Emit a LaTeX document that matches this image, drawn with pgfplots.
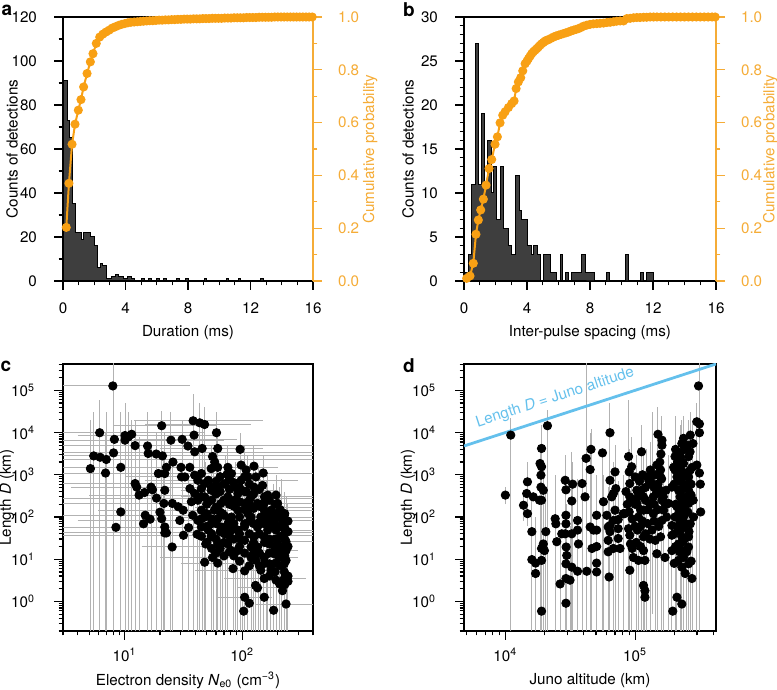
\documentclass[border=0pt]{standalone}
\usepackage{fontspec}
\setmainfont{TeX Gyre Heros}
\usepackage{pgfplots}
\pgfplotsset{compat=1.18}
\definecolor{cumor}{RGB}{248,160,20}
\definecolor{axor}{RGB}{245,172,55}
\definecolor{barfill}{RGB}{62,62,62}
\definecolor{eb}{RGB}{178,178,178}
\definecolor{jblue}{RGB}{100,192,236}
\newcommand{\fs}{\fontsize{7.6}{9}\selectfont}
\pgfplotsset{
  every axis/.append style={scale only axis, font=\fs,
    tick label style={font=\fs}, label style={font=\fs},
    axis line style={line width=0.6pt}, tick style={line width=0.6pt, black},
    major tick length=4.5pt, minor tick length=2.2pt, tick align=outside,
    /pgf/number format/assume math mode=true},
  twin/.style={axis x line=none, axis y line*=right, ymin=0, ymax=1,
    ytick={0,0.2,0.4,0.6,0.8,1}, minor ytick={0.1,0.3,0.5,0.7,0.9},
    yticklabels={0.0,0.2,0.4,0.6,0.8,1.0},
    yticklabel style={color=axor, anchor=west, xshift=4.5pt},
    y axis line style={color=axor}, tick style={color=axor}, clip=false},
  hist/.style={xmin=0, xmax=16, xtick={0,4,8,12,16},
    minor xtick={1,2,3,5,6,7,9,10,11,13,14,15}, xtick pos=left, ytick pos=left,
    xticklabel style={anchor=north, yshift=-3pt}, yticklabel style={anchor=east, xshift=-5pt}},
  logp/.style={xtick pos=left, ytick pos=left,
    ytick={1,10,100,1000,10000,100000},
    yticklabels={10\textsuperscript{0},10\textsuperscript{1},10\textsuperscript{2},10\textsuperscript{3},10\textsuperscript{4},10\textsuperscript{5}},
    minor ytick={0.2,0.3,0.4,0.5,0.6,0.7,0.8,0.9,2,3,4,5,6,7,8,9,20,30,40,50,60,70,80,90,200,300,400,500,600,700,800,900,2000,3000,4000,5000,6000,7000,8000,9000,20000,30000,40000,50000,60000,70000,80000,90000,200000,300000,400000},
    xticklabel style={anchor=north, yshift=-0.5pt}, yticklabel style={anchor=east, xshift=-6pt},
    ylabel={Length \textit{D} (km)}},
}
\begin{document}
\begin{tikzpicture}
\useasboundingbox (0,0) rectangle (388.5pt,345pt);
% ---------------- panel a ----------------
\begin{axis}[hist, at={(31.5pt,204.5pt)}, anchor=south west, width=125pt, height=132pt,
  ymin=0, ymax=120, ytick={0,20,40,60,80,100,120}, minor ytick={10,30,50,70,90,110},
  xlabel={Duration (ms)}, xlabel style={at={(axis description cs:0.5,-0.197)}, anchor=center},
  ylabel={Counts of detections}, ylabel style={at={(axis description cs:-0.204,0.5)}, anchor=center}]
\addplot[const plot mark left, fill=barfill, draw=black, line width=0.5pt] coordinates {
(0,91) (0.26,73) (0.4,65) (0.6,35) (0.83,22) (1.2,19) (1.32,22) (1.75,20) (2.0,16)
(2.2,6) (2.4,8) (2.55,7) (2.8,1) (3.1,2) (3.35,3) (3.55,2) (3.9,1) (4.1,2) (4.4,1)
(4.6,0) (5.0,1) (5.2,0) (5.5,1) (5.65,0) (6.0,1) (6.2,0) (6.4,1) (6.6,0) (7.25,1)
(7.45,0) (7.85,1) (8.0,0) (9.05,1) (9.2,0) (10.45,1) (10.6,0) (11.2,1) (11.35,0)
(12.65,1) (12.8,0) (16,0)} \closedcycle;
\end{axis}
\begin{axis}[twin, at={(31.5pt,204.5pt)}, anchor=south west, width=125pt, height=132pt,
  xmin=0, xmax=16,
  ylabel={Cumulative probability}, ylabel style={color=axor, at={(axis description cs:1.228,0.5)}, anchor=center}]
\addplot[color=cumor, line width=1pt, mark=*, mark size=1.75pt] coordinates {
(0.21,0.203) (0.38,0.37) (0.58,0.518) (0.77,0.594) (0.98,0.647) (1.15,0.687) (1.32,0.735)
(1.54,0.786) (1.75,0.83) (1.92,0.861) (2.13,0.9) (2.35,0.924) (2.55,0.935) (2.75,0.943)
(2.95,0.95) (3.15,0.958) (3.35,0.963) (3.55,0.968) (3.75,0.972) (3.95,0.975) (4.15,0.978)
(4.35,0.98) (4.55,0.981) (4.75,0.982) (4.95,0.983) (5.15,0.984) (5.35,0.985) (5.55,0.986)
(5.75,0.986) (5.95,0.987) (6.15,0.988) (6.35,0.988) (6.55,0.989) (6.75,0.989) (6.95,0.99)
(7.15,0.99) (7.35,0.991) (7.55,0.991) (7.75,0.992) (7.95,0.992) (8.15,0.992) (8.35,0.993)
(8.55,0.993) (8.75,0.993) (8.95,0.994) (9.15,0.994) (9.35,0.994) (9.55,0.995) (9.75,0.995)
(9.95,0.995) (10.15,0.995) (10.35,0.996) (10.55,0.996) (10.75,0.996) (10.95,0.997)
(11.15,0.997) (11.35,0.997) (11.55,0.997) (11.75,0.998) (11.95,0.998) (12.15,0.998)
(12.35,0.998) (12.55,0.999) (12.75,0.999) (12.95,0.999) (13.15,0.999) (13.35,0.999)
(13.55,1) (13.75,1) (13.95,1) (14.15,1) (14.35,1) (14.55,1) (14.75,1) (14.95,1) (15.15,1)
(15.35,1) (15.55,1) (15.75,1) (15.95,1)};
\end{axis}
% ---------------- panel b ----------------
\begin{axis}[hist, at={(232pt,204.5pt)}, anchor=south west, width=126pt, height=132pt,
  ymin=0, ymax=30, ytick={0,5,10,15,20,25,30},
  minor ytick={1,2,3,4,6,7,8,9,11,12,13,14,16,17,18,19,21,22,23,24,26,27,28,29},
  xlabel={Inter-pulse spacing (ms)}, xlabel style={at={(axis description cs:0.5,-0.197)}, anchor=center},
  ylabel={Counts of detections}, ylabel style={at={(axis description cs:-0.222,0.5)}, anchor=center}]
\addplot[const plot mark left, fill=barfill, draw=black, line width=0.5pt] coordinates {
(0,1) (0.28,3) (0.49,11) (0.7,27) (0.95,11) (1.08,19) (1.33,11) (1.48,16) (1.72,10)
(1.86,13) (2.08,7) (2.29,13) (2.5,6) (2.82,4) (2.99,3) (3.28,12) (3.5,8) (3.67,7)
(4.05,4) (4.26,3) (4.41,4) (4.68,3) (4.83,0) (5.04,3) (5.47,1) (5.89,0) (6.1,3)
(6.27,0) (6.42,1) (6.63,0) (6.84,1) (7.48,3) (7.69,1) (8.26,0) (9.07,1) (9.24,0)
(10.23,3) (10.44,0) (11.19,1) (11.4,0) (11.57,1) (12.03,0) (16,0)} \closedcycle;
\end{axis}
\begin{axis}[twin, at={(232pt,204.5pt)}, anchor=south west, width=126pt, height=132pt,
  xmin=0, xmax=16,
  ylabel={Cumulative probability}, ylabel style={color=axor, at={(axis description cs:1.216,0.5)}, anchor=center}]
\addplot[color=cumor, line width=1pt, mark=*, mark size=1.75pt] coordinates {
(0.17,0.01) (0.38,0.019) (0.59,0.067) (0.76,0.177) (0.91,0.231) (1.06,0.269) (1.23,0.31)
(1.4,0.363) (1.59,0.426) (1.76,0.46) (1.97,0.518) (2.12,0.546) (2.29,0.599) (2.46,0.628)
(2.61,0.641) (2.82,0.657) (3.03,0.672) (3.18,0.682) (3.31,0.729) (3.45,0.754) (3.6,0.77)
(3.73,0.796) (3.88,0.823) (4.0,0.833) (4.09,0.842) (4.2,0.852) (4.3,0.861) (4.4,0.868)
(4.51,0.874) (4.62,0.88) (4.72,0.886) (4.83,0.893) (4.94,0.899) (5.05,0.904) (5.15,0.909)
(5.26,0.912) (5.36,0.914) (5.52,0.919) (5.68,0.924) (5.84,0.928) (6.0,0.931) (6.15,0.934)
(6.31,0.937) (6.47,0.94) (6.63,0.943) (6.79,0.947) (6.95,0.95) (7.11,0.953) (7.27,0.956)
(7.42,0.96) (7.58,0.965) (7.79,0.969) (8.0,0.972) (8.21,0.974) (8.43,0.975) (8.64,0.976)
(8.86,0.977) (9.07,0.979) (9.28,0.98) (9.49,0.982) (9.7,0.984) (9.91,0.985) (10.13,0.985)
(10.34,0.994) (10.55,0.995) (10.76,0.997) (10.97,0.998) (11.18,0.998) (11.4,0.999)
(11.6,0.999) (11.82,1) (12.04,1) (12.25,1) (12.5,1) (12.75,1) (13,1) (13.25,1) (13.5,1)
(13.75,1) (14,1) (14.25,1) (14.5,1) (14.75,1) (15,1) (15.25,1) (15.5,1) (15.75,1) (15.95,1)};
\end{axis}
% ---------------- panel c ----------------
\begin{axis}[logp, xmode=log, ymode=log, ymin=0.2, ymax=4.2e5,
  at={(31.5pt,29.5pt)}, anchor=south west, width=125pt, height=133.5pt,
  xmin=3, xmax=400, xtick={10,100},
  xticklabels={10\textsuperscript{1},10\textsuperscript{2}},
  minor xtick={3,4,5,6,7,8,9,20,30,40,50,60,70,80,90,200,300,400},
  xlabel={Electron density \textit{N}\textsubscript{e0} (cm\textsuperscript{−3})},
  xlabel style={at={(axis description cs:0.5,-0.184)}, anchor=center},
  ylabel style={at={(axis description cs:-0.224,0.5)}, anchor=center}]
% vertical error bars
\addplot[eb, line width=0.5pt, unbounded coords=jump, mark=none] coordinates {
(8,0.1) (8,1e6) (8,nan) (6.15,0.1) (6.15,6e4) (6.15,nan) (5.13,0.1) (5.13,2e4) (5.13,nan)
(5.47,0.1) (5.47,3e4) (5.47,nan) (7.0,0.1) (7.0,3e4) (7.0,nan) (6.9,0.1) (6.9,1e4) (6.9,nan)
(9.3,0.1) (9.3,3e4) (9.3,nan) (10.1,0.1) (10.1,5e4) (10.1,nan) (10.8,0.1) (10.8,3e4) (10.8,nan)
(11.5,0.1) (11.5,2e4) (11.5,nan) (12.3,0.1) (12.3,2e4) (12.3,nan) (13.3,0.1) (13.3,8e3) (13.3,nan)
(15.7,0.1) (15.7,3e4) (15.7,nan) (16.8,0.1) (16.8,5e3) (16.8,nan) (18.6,0.1) (18.6,1e4) (18.6,nan)
(20.7,0.1) (20.7,3.3e4) (20.7,nan) (22,0.1) (22,1e4) (22,nan) (24.8,0.1) (24.8,3e4) (24.8,nan)
(21.6,0.1) (21.6,3e3) (21.6,nan) (25.5,0.1) (25.5,2e3) (25.5,nan) (30.9,0.1) (30.9,2e4) (30.9,nan)
(35.1,0.1) (35.1,1e3) (35.1,nan) (38.3,0.1) (38.3,8e4) (38.3,nan) (43.6,0.1) (43.6,5e4) (43.6,nan)
(47.9,0.1) (47.9,4e4) (47.9,nan) (45.7,0.1) (45.7,1.5e4) (45.7,nan) (54.5,0.1) (54.5,5e3) (54.5,nan)
(60.5,0.1) (60.5,3e4) (60.5,nan) (62,0.1) (62,1e4) (62,nan) (72,0.1) (72,3e3) (72,nan)
(75.6,0.1) (75.6,5e3) (75.6,nan) (83.6,0.1) (83.6,1e3) (83.6,nan) (96,0.1) (96,1e4) (96,nan)
(105,0.1) (105,5e3) (105,nan) (112,0.1) (112,3e3) (112,nan) (126,0.1) (126,5e3) (126,nan)
(131,0.1) (131,2e3) (131,nan) (151,0.1) (151,3e3) (151,nan) (165,0.1) (165,1e3) (165,nan)
(185,0.1) (185,600) (185,nan) (194,0.1) (194,1e3) (194,nan) (208,0.1) (208,500) (208,nan)
(228,0.1) (228,400) (228,nan) (236,0.1) (236,300) (236,nan) (119,0.1) (119,500) (119,nan)
(144,0.1) (144,800) (144,nan) (92,0.1) (92,800) (92,nan) (66,0.1) (66,1500) (66,nan)
(49,0.1) (49,2e3) (49,nan) (41.4,0.1) (41.4,1e3) (41.4,nan) (57,0.1) (57,2e3) (57,nan)
(68,0.1) (68,800) (68,nan) (88,0.1) (88,2e3) (88,nan) (100,0.1) (100,600) (100,nan)
(138,0.1) (138,1500) (138,nan) (160,0.1) (160,700) (160,nan) (175,0.1) (175,400) (175,nan)
(215,0.1) (215,800) (215,nan) (245,0.1) (245,200) (245,nan)};
% horizontal error bars
\addplot[eb, line width=0.5pt, unbounded coords=jump, mark=none] coordinates {
(3,1.27e5) (36,1.27e5) (nan,1.27e5) (3,9.9e3) (48,9.9e3) (nan,9.9e3) (4,8.5e3) (65,8.5e3) (nan,8.5e3)
(3,6.6e3) (70,6.6e3) (nan,6.6e3) (3,4.9e3) (400,4.9e3) (nan,4.9e3) (3,3.3e3) (400,3.3e3) (nan,3.3e3)
(3,2.8e3) (400,2.8e3) (nan,2.8e3) (3,2.3e3) (400,2.3e3) (nan,2.3e3) (3,1.5e3) (120,1.5e3) (nan,1.5e3)
(3,1.1e3) (400,1.1e3) (nan,1.1e3) (3,620) (80,620) (nan,620) (3.5,510) (70,510) (nan,510)
(5,330) (200,330) (nan,330) (3,280) (400,280) (nan,280) (3,210) (400,210) (nan,210)
(6,145) (400,145) (nan,145) (3,110) (250,110) (nan,110) (4,83) (400,83) (nan,83)
(3,57) (60,57) (nan,57) (3,42) (400,42) (nan,42) (3,37) (400,37) (nan,37)
(14,19.5) (220,19.5) (nan,19.5) (20,11) (300,11) (nan,11) (30,8) (250,8) (nan,8)
(40,5.3) (250,5.3) (nan,5.3) (60,1.26) (180,1.26) (nan,1.26) (12,1.9e4) (150,1.9e4) (nan,1.9e4)
(15,1.55e4) (120,1.55e4) (nan,1.55e4) (8,1.45e4) (60,1.45e4) (nan,1.45e4) (12,6.9e3) (90,6.9e3) (nan,6.9e3)
(20,4.2e3) (150,4.2e3) (nan,4.2e3) (20,1.5e3) (200,1.5e3) (nan,1.5e3) (10,890) (100,890) (nan,890)
(15,740) (300,740) (nan,740) (30,430) (200,430) (nan,430) (30,300) (400,300) (nan,300)
(40,170) (400,170) (nan,170) (30,100) (400,100) (nan,100) (60,49) (400,49) (nan,49)
(90,26) (400,26) (nan,26) (60,16) (300,16) (nan,16) (70,3.5) (350,3.5) (nan,3.5)
(90,2.1) (200,2.1) (nan,2.1) (130,0.87) (400,0.87) (nan,0.87)};
\addplot[only marks, mark=*, mark size=2.1pt, black] coordinates {
(7.96,1.27e5) (6.15,9.9e3) (8.2,6.9e3) (8.07,3.3e3) (5.47,2.8e3) (6.2,2.6e3) (7.0,2.3e3)
(5.13,1.4e3) (6.9,1.1e3) (9.3,1.5e3) (8.45,57) (9.3,132) (10.1,8.5e3) (10.8,7.9e3)
(11.5,9.1e3) (10.1,6.6e3) (12.3,4.9e3) (20.7,1.45e4) (15.7,4.8e3) (15.9,3.2e3) (18.6,3.1e3)
(21,2.8e3) (24.8,6.6e3) (30.9,6.9e3) (38.3,1.9e4) (43.6,1.7e4) (47.9,1.55e4) (39,8.7e3)
(34.6,4.8e3) (39.5,3.5e3) (45.7,4.2e3) (60.5,9.9e3) (62,4.2e3) (56,2.7e3) (58.4,2.0e3)
(62,1.5e3) (54.5,1.4e3) (75.6,1.5e3) (74.5,1.03e3) (72,620) (96,4e3) (98,1.7e3) (108,1.3e3)
(126,1.6e3) (112,890) (98,740) (131,890) (151,1.1e3) (126,510) (149,560) (165,330) (194,330)
(12.3,620) (12.7,510) (13.3,330) (14.8,380) (16.8,510) (17.3,440) (18.7,280) (19.4,1.07e3)
(22,1.07e3) (22.7,1.5e3) (25.8,2e3) (22,430) (21.6,210) (20,130) (20.7,91) (22,58) (22,42)
(22.7,42) (25.5,210) (28.6,175) (31.5,145) (29.5,83) (25.4,19.5) (31.7,37) (35.1,56)
(41.4,39) (14.5,69) (15,110) (16.5,89) (30.2,1.5e3) (30.5,890) (35.9,1.5e3)
(48,8.5) (49,23) (62,8.1) (56,11) (83.6,6) (105,5.3) (105,1.26) (115,0.91) (103,0.59)
(130,2.4) (135,2.1) (154,1.26) (185,0.62) (236,0.87) (220,1.8) (194,3.2) (154,3.5)
(170,7.8) (228,5) (228,7.8) (228,3.5) (208,2.6) (236,9.4) (236,16) (236,26) (228,40)
(228,69) (228,110) (220,83) (194,49) (200,23) (187,13.5) (170,23) (154,34) (165,49)
(144,100) (135,58) (126,34) (119,19.5) (119,11) (131,9.4) (144,5.5) (176,5.5) (98,28)
(92,16) (81,16) (75.6,23) (70.8,40) (81,49) (92,49) (105,69) (112,120) (105,210) (119,300)
(135,210) (154,210) (176,145) (176,83) (154,69) (119,100) (92,145) (86,250) (75.6,300)
(66,210) (58,145) (62,91) (54.5,69) (48,100) (45,145) (42,250) (37,230) (48,300) (54.5,430)
(62,510) (48,620) (42,740) (39.5,980) (45,1.07e3) (51.5,740) (32.6,890) (54.5,34) (62,23)
(51.5,49) (81,100) (75.6,69) (86,510) (92,360) (108,400) (81,1.07e3) (119,175) (200,210)
(200,100) (210,34) (205,11) (154,11) (135,19.5) (42,83) (38,110) (45,58) (66,58) (68,120)
(45,470) (39.5,360) (36,470)
(45,300) (45,90) (45,35) (50,200) (50,120) (50,60) (50,25) (55,500) (55,250) (55,90) (55,40)
(55,18) (60,700) (60,350) (60,170) (60,70) (60,30) (60,14) (65,900) (65,400) (65,130) (65,45)
(65,18) (70,600) (70,250) (70,110) (70,55) (70,25) (70,12) (78,800) (78,450) (78,200) (78,90)
(78,35) (78,15) (85,650) (85,180) (85,70) (85,30) (85,12) (95,500) (95,230) (95,100) (95,40)
(95,20) (95,9) (105,900) (105,400) (105,150) (105,60) (105,28) (105,14) (115,600) (115,250)
(115,80) (115,40) (115,7) (125,350) (125,160) (125,70) (125,25) (125,14) (140,450) (140,180)
(140,75) (140,40) (140,14) (140,7) (155,300) (155,140) (155,90) (155,25) (155,8) (170,250)
(170,110) (170,60) (170,30) (170,14) (170,4) (190,200) (190,120) (190,70) (190,30) (190,18)
(190,8) (190,5) (210,150) (210,60) (210,20) (210,13) (210,7) (230,120) (230,55) (230,30)
(230,18) (230,12) (230,2.5) (245,80) (245,45) (245,20) (245,4) (245,3)};
\end{axis}
% ---------------- panel d ----------------
\begin{axis}[logp, xmode=log, ymode=log, ymin=0.2, ymax=4.2e5,
  at={(232pt,29.5pt)}, anchor=south west, width=126pt, height=133.5pt,
  xmin=4.8e3, xmax=4.2e5, xtick={10000,100000},
  xticklabels={10\textsuperscript{4},10\textsuperscript{5}},
  minor xtick={5000,6000,7000,8000,9000,20000,30000,40000,50000,60000,70000,80000,90000,200000,300000,400000},
  xlabel={Juno altitude (km)},
  xlabel style={at={(axis description cs:0.5,-0.184)}, anchor=center},
  ylabel style={at={(axis description cs:-0.222,0.5)}, anchor=center}]
\addplot[eb, line width=0.5pt, unbounded coords=jump, mark=none] coordinates {
(1.0e4,200) (1.0e4,500) (1.0e4,nan) (1.1e4,0.1) (1.1e4,2.2e4) (1.1e4,nan)
(1.38e4,80) (1.38e4,400) (1.38e4,nan) (1.48e4,60) (1.48e4,2e3) (1.48e4,nan)
(1.6e4,0.1) (1.6e4,300) (1.6e4,nan) (1.71e4,0.1) (1.71e4,100) (1.71e4,nan)
(1.85e4,0.1) (1.85e4,5e3) (1.85e4,nan) (1.9e4,0.1) (1.9e4,1.5e4) (1.9e4,nan)
(1.96e4,0.1) (1.96e4,2e3) (1.96e4,nan) (2.05e4,0.1) (2.05e4,500) (2.05e4,nan)
(2.11e4,0.1) (2.11e4,3.4e4) (2.11e4,nan) (2.42e4,0.1) (2.42e4,1e3) (2.42e4,nan)
(2.64e4,0.1) (2.64e4,50) (2.64e4,nan) (2.89e4,0.1) (2.89e4,3e3) (2.89e4,nan)
(2.93e4,0.1) (2.93e4,800) (2.93e4,nan) (2.97e4,0.1) (2.97e4,200) (2.97e4,nan)
(3.15e4,0.1) (3.15e4,60) (3.15e4,nan) (3.25e4,0.1) (3.25e4,3.5e3) (3.25e4,nan)
(3.3e4,0.1) (3.3e4,2e3) (3.3e4,nan) (3.6e4,0.1) (3.6e4,800) (3.6e4,nan)
(3.9e4,0.1) (3.9e4,3e3) (3.9e4,nan) (4.19e4,0.1) (4.19e4,1e6) (4.19e4,nan)
(4.5e4,0.1) (4.5e4,1e4) (4.5e4,nan) (4.57e4,0.1) (4.57e4,1.2e4) (4.57e4,nan)
(5.05e4,0.1) (5.05e4,1e3) (5.05e4,nan) (5.6e4,0.1) (5.6e4,4e3) (5.6e4,nan)
(5.7e4,0.1) (5.7e4,1e3) (5.7e4,nan) (6.2e4,0.1) (6.2e4,500) (6.2e4,nan)
(6.4e4,0.1) (6.4e4,5e4) (6.4e4,nan) (6.8e4,0.1) (6.8e4,2e3) (6.8e4,nan)
(7e4,0.1) (7e4,5e3) (7e4,nan) (7.4e4,0.1) (7.4e4,700) (7.4e4,nan)
(8.1e4,0.1) (8.1e4,1e3) (8.1e4,nan) (8.9e4,0.1) (8.9e4,6e4) (8.9e4,nan)
(9.1e4,0.1) (9.1e4,4e3) (9.1e4,nan) (9.4e4,0.1) (9.4e4,8e3) (9.4e4,nan)
(1.03e5,0.1) (1.03e5,3e3) (1.03e5,nan) (1.06e5,0.1) (1.06e5,1e3) (1.06e5,nan)
(1.12e5,0.1) (1.12e5,1.5e4) (1.12e5,nan) (1.16e5,0.1) (1.16e5,3e3) (1.16e5,nan)
(1.19e5,0.1) (1.19e5,200) (1.19e5,nan) (1.23e5,0.1) (1.23e5,4e3) (1.23e5,nan)
(1.31e5,0.1) (1.31e5,6e3) (1.31e5,nan) (1.35e5,0.5) (1.35e5,3e4) (1.35e5,nan)
(1.43e5,0.1) (1.43e5,1e3) (1.43e5,nan) (1.5e5,0.1) (1.5e5,4e4) (1.5e5,nan)
(1.61e5,0.1) (1.61e5,2.5e4) (1.61e5,nan) (1.66e5,0.1) (1.66e5,1e3) (1.66e5,nan)
(1.81e5,0.1) (1.81e5,3e3) (1.81e5,nan) (1.92e5,0.1) (1.92e5,2e3) (1.92e5,nan)
(2.03e5,0.1) (2.03e5,2.5e4) (2.03e5,nan) (2.1e5,0.1) (2.1e5,5e3) (2.1e5,nan)
(2.22e5,0.1) (2.22e5,1.5e4) (2.22e5,nan) (2.29e5,0.1) (2.29e5,2e4) (2.29e5,nan)
(2.36e5,0.1) (2.36e5,2.5e4) (2.36e5,nan) (2.5e5,0.1) (2.5e5,3e3) (2.5e5,nan)
(2.58e5,0.1) (2.58e5,2e4) (2.58e5,nan) (2.66e5,0.1) (2.66e5,3e4) (2.66e5,nan)
(2.79e5,0.1) (2.79e5,2e4) (2.79e5,nan) (2.99e5,0.1) (2.99e5,5e4) (2.99e5,nan)
(3.13e5,0.1) (3.13e5,1e6) (3.13e5,nan)};
\addplot[jblue, line width=1.4pt, mark=none] coordinates {(4.8e3,4.8e3) (4.2e5,4.2e5)};
\node[jblue, rotate=18, font=\fs] at (axis cs:2.42e4,6.6e4) {Length \textit{D} = Juno altitude};
\addplot[only marks, mark=*, mark size=2.1pt, black] coordinates {
(1.0e4,330) (1.1e4,8.7e3) (1.38e4,190) (1.48e4,680) (1.46e4,360) (1.48e4,120) (1.6e4,45)
(1.6e4,9.8) (1.71e4,8.1) (1.71e4,4.6) (1.64e4,300) (1.9e4,4.2e3) (1.85e4,1.85e3)
(1.9e4,1.55e3) (1.88e4,980) (1.88e4,510) (1.96e4,430) (1.9e4,250) (1.83e4,250) (2.05e4,45)
(1.96e4,23) (1.9e4,18) (2.0e4,16) (1.9e4,9.4) (1.9e4,0.59) (2.11e4,1.45e4) (2.42e4,91)
(2.45e4,69) (2.49e4,26) (2.64e4,2.6) (2.89e4,740) (2.93e4,440) (2.93e4,110) (2.93e4,69)
(2.89e4,40) (2.94e4,19.5) (2.97e4,12.3) (2.93e4,7.8) (2.93e4,3.5) (2.93e4,0.91) (3.15e4,3.2)
(3.25e4,6.5) (3.25e4,40) (3.25e4,240) (3.3e4,600) (2.72e4,40) (3.6e4,83) (3.6e4,49)
(3.66e4,23) (3.6e4,5.2) (3.9e4,620) (4.11e4,300) (4.19e4,2.45e3) (4.24e4,5.2) (4.5e4,1.33e3)
(4.57e4,4e3) (4.5e4,58) (4.65e4,18) (4.78e4,49) (5.05e4,110) (5.05e4,49) (5.05e4,20)
(5.05e4,8.1) (5.05e4,5) (5.6e4,3.3e3) (5.7e4,230) (6.05e4,110) (6.2e4,58) (6.2e4,28)
(6.2e4,15) (6.4e4,9.9e3) (6.4e4,740) (6.4e4,63) (6.4e4,45) (6.3e4,3.8) (6.6e4,300)
(6.8e4,360) (7e4,1.17e3) (7e4,145) (6.8e4,83) (6.8e4,18) (7.1e4,470) (7.4e4,87) (7.4e4,53)
(7.4e4,31) (7.65e4,18) (8.1e4,120) (8.3e4,120) (8.9e4,2.7e3) (9e4,1.17e3) (9.1e4,5.5)
(9.4e4,1.55e3) (9.1e4,620) (9.1e4,300) (9e4,132) (8.9e4,53) (9.1e4,37) (9.2e4,23)
(9.5e4,18) (9.7e4,11) (1e5,890) (1.03e5,430) (1.03e5,210) (1.06e5,100) (1.04e5,49)
(1.06e5,9.4) (1.12e5,3.5e3) (1.12e5,430) (1.16e5,300) (1.16e5,145) (1.16e5,34) (1.16e5,16)
(1.19e5,9.4) (1.16e5,2.4) (1.19e5,1.8) (1.19e5,1.26) (1.23e5,890) (1.31e5,1.3e3) (1.35e5,620)
(1.38e5,300) (1.38e5,120) (1.35e5,49) (1.43e5,28) (1.47e5,13.5) (1.47e5,1.7e3) (1.5e5,9.1e3)
(1.61e5,6.6e3) (1.61e5,5e3) (1.58e5,3.1e3) (1.57e5,1.3e3) (1.57e5,890) (1.55e5,430)
(1.61e5,250) (1.66e5,145) (1.61e5,83) (1.57e5,34) (1.7e5,11) (1.73e5,430) (1.81e5,210)
(1.92e5,510) (1.92e5,63) (1.92e5,37) (1.92e5,16) (1.95e5,0.59) (2.03e5,2.7e3) (2.03e5,1.3e3)
(2.03e5,100) (2.1e5,175) (2.1e5,1.26) (2.1e5,890) (2.16e5,430) (2.16e5,49) (2.16e5,23)
(2.16e5,9.4) (2.22e5,3.2e3) (2.22e5,1.55e3) (2.22e5,300) (2.22e5,83) (2.29e5,5.5e3)
(2.29e5,890) (2.29e5,175) (2.29e5,34) (2.29e5,16) (2.29e5,6.5) (2.29e5,0.87) (2.36e5,7.3e3)
(2.36e5,1.85e3) (2.36e5,620) (2.36e5,100) (2.36e5,58) (2.36e5,11) (2.43e5,4.6) (2.5e5,300)
(2.55e5,5e3) (2.58e5,2.7e3) (2.58e5,890) (2.58e5,210) (2.58e5,34) (2.58e5,19.5) (2.58e5,7.8)
(2.66e5,8.7e3) (2.66e5,1.3e3) (2.66e5,69) (2.7e5,330) (2.74e5,3.5) (2.79e5,5.5e3) (2.82e5,100)
(2.99e5,1.7e3) (2.99e5,1.8e4) (3.08e5,1.27e5) (3.13e5,1.6e4) (3.13e5,9.9e3) (3.13e5,1.1e3)
(3.18e5,600) (3.2e5,132) (2.62e5,620)
(1e5,200) (1e5,60) (1.02e5,25) (1.05e5,300) (1.08e5,700) (1.1e5,150) (1.1e5,60) (1.1e5,20)
(1.14e5,1e3) (1.14e5,80) (1.2e5,500) (1.2e5,250) (1.2e5,40) (1.25e5,150) (1.25e5,70)
(1.28e5,700) (1.3e5,200) (1.3e5,30) (1.33e5,900) (1.4e5,500) (1.4e5,200) (1.4e5,80)
(1.45e5,1e3) (1.45e5,350) (1.5e5,600) (1.5e5,150) (1.52e5,60) (1.55e5,2e3) (1.6e5,800)
(1.65e5,300) (1.7e5,200) (1.75e5,100) (8.5e4,400) (8.7e4,200) (9.5e4,90) (9.7e4,250)
(2e5,600) (2e5,40) (2e5,8) (2.05e5,200) (2.05e5,20) (2.12e5,2e3) (2.12e5,60) (2.18e5,700)
(2.18e5,130) (2.2e5,15) (2.25e5,2.5e3) (2.25e5,400) (2.25e5,50) (2.3e5,1.2e3) (2.3e5,250)
(2.32e5,25) (2.38e5,4e3) (2.4e5,150) (2.4e5,30) (2.45e5,500) (2.45e5,70) (2.5e5,1.1e3)
(2.5e5,15) (2.55e5,130) (2.6e5,400) (2.6e5,45) (2.65e5,3.5e3) (2.7e5,600) (2.7e5,9)
(2.75e5,1.5e3) (2.8e5,250) (2.05e5,4e3) (1.98e5,1.5e3)};
\end{axis}
% panel letters
\node[font=\bfseries\fontsize{9.5}{10}\selectfont] at (3.5pt,340pt) {a};
\node[font=\bfseries\fontsize{9.5}{10}\selectfont] at (204.5pt,340pt) {b};
\node[font=\bfseries\fontsize{9.5}{10}\selectfont] at (3pt,162pt) {c};
\node[font=\bfseries\fontsize{9.5}{10}\selectfont] at (204.5pt,162pt) {d};
\end{tikzpicture}
\end{document}
